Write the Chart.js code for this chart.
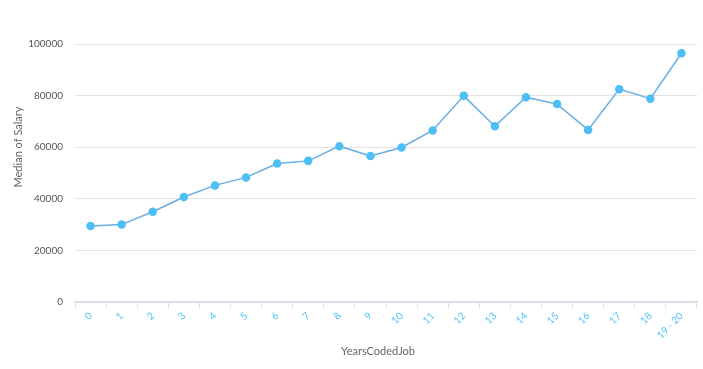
<!DOCTYPE html>
<html lang="en">
<head>
    <meta charset="UTF-8">
    <title>Median of Salary by YearsCodedJob</title>
    <script src="https://cdn.jsdelivr.net/npm/chart.js"></script>
    <style>
        body { margin: 0; background-color: white; }
        .chart-box { width: 703px; height: 369px; position: relative; }
    </style>
</head>
<body>
    <div class="chart-box">
        <canvas id="salaryChart"></canvas>
    </div>

    <script>
        // data
        const years = ["0", "1", "2", "3", "4", "5", "6", "7", "8", "9", "10",
                       "11", "12", "13", "14", "15", "16", "17", "18", "19 - 20"];
        const medianSalary = [29500, 30000, 35000, 40700, 45200, 48300, 53700, 54700, 60400, 56600,
                              59900, 66500, 79900, 68100, 79400, 76700, 66700, 82500, 78800, 96400];
        const yTicks = [0, 20000, 40000, 60000, 80000, 100000];

        const xTitle = "YearsCodedJob";
        const yTitle = "Median of Salary";
        const fontName = "Lato, 'Open Sans', sans-serif";

        // axis titles placed where the reference has them
        const axisTitles = {
            id: 'axisTitles',
            afterDraw(chart) {
                const ctx = chart.ctx;
                ctx.save();
                ctx.fillStyle = '#666';
                ctx.font = "11px " + fontName;
                ctx.textAlign = 'center';
                ctx.textBaseline = 'middle';
                ctx.fillText(xTitle, 378, 351);
                ctx.translate(18, 147);
                ctx.rotate(-Math.PI / 2);
                ctx.fillText(yTitle, 0, 0);
                ctx.restore();
            }
        };

        const ctx = document.getElementById('salaryChart').getContext('2d');
        new Chart(ctx, {
            type: 'line',
            data: {
                labels: years,
                datasets: [{
                    label: yTitle,
                    data: medianSalary,
                    borderColor: '#66aee6',
                    borderWidth: 1.5,
                    pointBackgroundColor: '#4cbff6',
                    pointBorderColor: '#4cbff6',
                    pointRadius: 3.5,
                    fill: false,
                    tension: 0
                }]
            },
            options: {
                responsive: true,
                maintainAspectRatio: false,
                animation: false,
                layout: { padding: { top: 44, right: 6, left: 0, bottom: 0 } },
                plugins: {
                    legend: { display: false },
                    tooltip: { enabled: false }
                },
                scales: {
                    x: {
                        offset: true,
                        afterFit(scale) { scale.height = 67; },
                        grid: { drawOnChartArea: false, drawTicks: true, tickLength: 6, offset: true, color: '#d6dee9' },
                        border: { color: '#d6dee9', width: 1.5 },
                        ticks: {
                            color: '#4fc3f7',
                            font: { family: fontName, size: 10 },
                            minRotation: 45,
                            maxRotation: 45,
                            autoSkip: false,
                            padding: 2
                        }
                    },
                    y: {
                        min: yTicks[0],
                        max: yTicks[yTicks.length - 1],
                        afterFit(scale) { scale.width = 75; },
                        afterBuildTicks(scale) { scale.ticks = yTicks.map(v => ({ value: v })); },
                        grid: { color: '#e2e2e2', drawTicks: false, lineWidth: 1 },
                        border: { display: false },
                        ticks: {
                            color: '#555',
                            font: { family: fontName, size: 10 },
                            padding: 12,
                            callback: v => String(v)
                        }
                    }
                }
            },
            plugins: [axisTitles]
        });
    </script>
</body>
</html>
